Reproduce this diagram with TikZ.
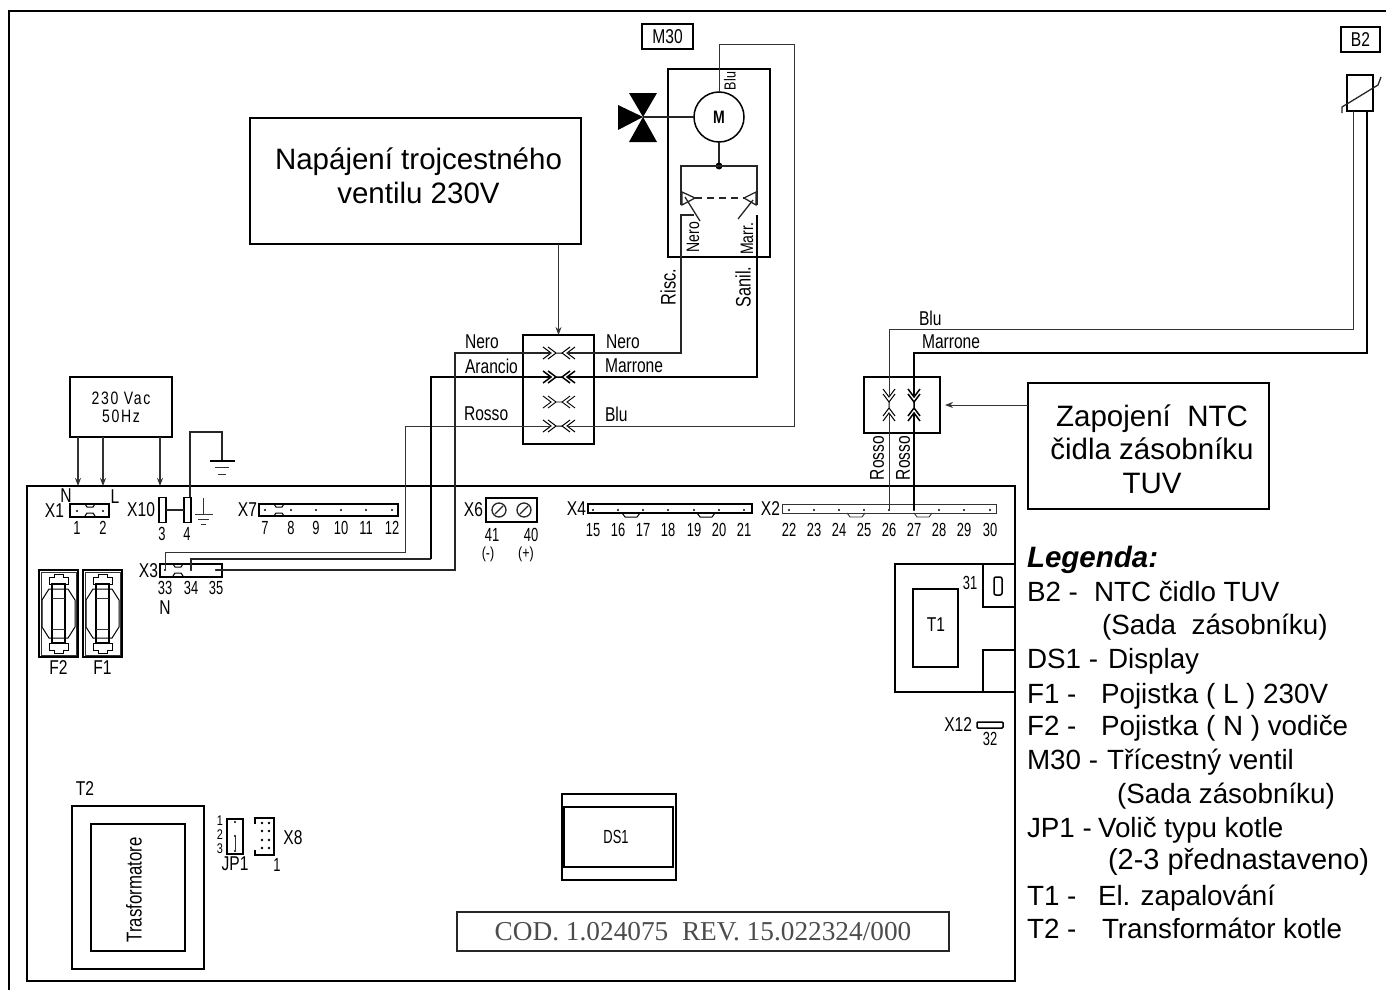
\documentclass[tikz,border=0pt]{standalone}
\usepackage{fontspec}
\setmainfont{Liberation Sans}
\newfontfamily\cadfont[FakeStretch=0.78]{Liberation Sans}
\newfontfamily\cadnumfont[FakeStretch=0.68]{Liberation Sans}
\newfontfamily\codfont{Liberation Serif}
\usetikzlibrary{positioning}
\usetikzlibrary{arrows.meta}
\tikzset{
    chevrons/.pic={
        \draw (-16,-6) -- (-8,0) -- (-16,6) (-11,-6) -- (-3,0) -- (-11,6) (-3,0) -- (3,0);
        \draw (16,-6) -- (8,0) -- (16,6) (11,-6) -- (3,0) -- (11,6);
    },
    clipmark/.pic={
        \draw (-5,0) -- (-3,3) -- (3,3) -- (5,0) (-5,12) -- (-3,9) -- (3,9) -- (5,12);
    },
    notch/.pic={
        \draw (-9,0) -- (-6,4) -- (6,4) -- (9,0);
    },
    fuseparts/.pic={
        \draw[thinwire] (2,2) rectangle (37,85);
        \draw (10,14) -- (10,7) -- (15,7) -- (15,4) -- (24,4) -- (24,7) -- (29,7) -- (29,14) -- cycle;
        \draw (10,73) -- (10,80) -- (15,80) -- (15,83) -- (24,83) -- (24,80) -- (29,80) -- (29,73) -- cycle;
        \draw (3,30) -- (10,19) -- (29,19) -- (36,30) -- (36,57) -- (29,68) -- (10,68) -- (3,57) -- cycle;
        \draw[boxline] (13,14) rectangle (26,73);
        \draw[thinwire] (13,28) -- (26,28) (13,59) -- (26,59);
    }
}
\begin{document}
\begin{tikzpicture}[
        x=1pt, y=-1pt, line width=1pt,
        every node/.style = {inner sep=0, outer sep=0},
        thinwire/.style = {line width=0.9pt, black!80},
        midwire/.style = {line width=1.3pt, black!85},
        thickwire/.style = {line width=2.3pt},
        boxline/.style = {line width=1.5pt},
        pointer/.style = {line width=1pt, black!80, -{Stealth[length=8pt, width=6pt]}},
        rect/.style = {draw, rectangle, boxline},
        calloutbox/.style = {rect, line width=2pt},
        callouttext/.style = {font=\fontsize{29.5}{33.5}\selectfont, align=center},
        cad/.style = {font=\cadfont\fontsize{20}{21}\selectfont, align=center},
        cadnum/.style = {font=\cadnumfont\fontsize{19}{20}\selectfont},
        cadsmall/.style = {font=\cadfont\fontsize{16}{17}\selectfont},
        cadtiny/.style = {font=\cadfont\fontsize{14}{14}\selectfont},
        cadrot/.style = {font=\cadfont\fontsize{18}{19}\selectfont},
        cadbig/.style = {font=\cadfont\fontsize{21}{22}\selectfont},
        legend/.style = {anchor=base west, font=\fontsize{27.8}{34}\selectfont}
        ]
    \useasboundingbox (0,0) rectangle (1386,990);
    \coordinate (framebl) at (9,990);
    \coordinate (frametr) at (1386,11);
    \draw[line width=2pt] (framebl) |- (frametr);
    \node[rect, minimum width=988pt, minimum height=495pt] (board) at (521,733.5) {};

    % power
    \node[rect, minimum width=102pt, minimum height=60pt, align=center,
        font=\cadfont\fontsize{18}{19}\selectfont\addfontfeature{LetterSpace=9}] (mains) at (121,407) {230 Vac\\[-1pt]50Hz};
    \coordinate (pinn) at (78,486);
    \coordinate (pinl) at (103,486);
    \coordinate (pinx) at (160,486);
    \draw[pointer, line width=1.4pt] (mains.south -| pinn) -- (pinn);
    \draw[pointer, line width=1.4pt] (mains.south -| pinl) -- (pinl);
    \draw[pointer, line width=1.4pt] (mains.south -| pinx) -- (pinx);
    \coordinate (pfour) at (190,498);
    \coordinate (gnd) at (222,461);
    \draw[midwire] (pfour) -- ++(0,-66) -| (gnd);
    \draw[boxline] (210,461) -- (235,461);
    \draw[thinwire] (215,467) -- (229,467) (218,474) -- (226,474);

    % X1, X10
    \node[rect, minimum width=39pt, minimum height=13pt] (xone) at (89.5,510.5) {};
    \pic at (90,504) {clipmark};
    \node[cad, left=6pt of xone] (lxone) {X1};
    \node[cad] (ln) at (66,496) {N};
    \node[cad] (ll) at (115,497) {L};
    \foreach \x/\n in {77/1,103/2} {
        \fill (\x,511) circle (1.2pt);
        \node[cadnum] (n\n) at (\x,528) {\n};
    }
    \node[rect, minimum width=7pt, minimum height=25pt] (xtena) at (162.5,510) {};
    \node[rect, minimum width=7pt, minimum height=25pt] (xtenb) at (187.5,510) {};
    \draw[midwire] (xtena) -- (xtenb);
    \node[cad, left=4pt of xtena] (lxten) {X10};
    \node[cadnum] (n3) at (162,534) {3};
    \node[cadnum] (n4) at (187,534) {4};
    \draw[thinwire] (203,498) -- (203,514) (195,514) -- (213,514) (198,519) -- (209,519) (201,524) -- (206,524);

    % X7
    \node[rect, line width=1.1pt, minimum width=139pt, minimum height=12pt] (xseven) at (328.5,510) {};
    \pic at (279,504) {clipmark};
    \node[cad, left=2pt of xseven] (lxseven) {X7};
    \foreach \x/\n in {265/7,291/8,316/9,341/10,366/11,392/12} {
        \fill (\x,510) circle (1.2pt);
        \node[cadnum] (n\n) at (\x,528) {\n};
    }

    % X3
    \node[rect, line width=1.1pt, minimum width=62pt, minimum height=13pt] (xthree) at (191,570.5) {};
    \pic at (178,564) {clipmark};
    \node[cad, left=2pt of xthree] (lxthree) {X3};
    \foreach \x/\n in {165/33,191/34,216/35} {
        \fill (\x,570) circle (1.2pt);
        \coordinate (p\n) at (\x,570);
        \node[cadnum] (n\n) at (\x,588) {\n};
    }
    \node[cad, below=6pt of n33] (ln33) {N};

    % fuses
    \node[rect, minimum width=39pt, minimum height=87pt] (ftwo) at (58.5,613.5) {};
    \pic at (39,570) {fuseparts};
    \node[rect, minimum width=39pt, minimum height=87pt] (fone) at (102.5,613.5) {};
    \pic at (83,570) {fuseparts};
    \node[cad, below=4pt of ftwo] (lftwo) {F2};
    \node[cad, below=4pt of fone] (lfone) {F1};

    % valve connector
    \node[rect, minimum width=71pt, minimum height=109pt] (mconn) at (558.5,389.5) {};
    \foreach \y/\r/\w in {353/a/1,377/b/1.5,402/c/0.9,426/d/1} {
        \pic[line width=\w pt] at (559,\y) {chevrons};
        \coordinate (in\r) at (551,\y);
        \coordinate (out\r) at (567,\y);
    }
    \node[cad, anchor=west] (lnerol) at (465,342) {Nero};
    \node[cad, anchor=west] (larancio) at (465,366) {Arancio};
    \node[cad, anchor=west] (lrosso) at (464,414) {Rosso};
    \node[cad, anchor=west] (lneror) at (606,342) {Nero};
    \node[cad, anchor=west] (lmarrone) at (605,366) {Marrone};
    \node[cad, anchor=west] (lblu) at (605,414) {Blu};
    \draw[thinwire] (p33) |- ++(240,-18) |- (ind);
    \draw[midwire] (p34) |- ++(240,-11) coordinate (bendb);
    \draw[thickwire] (bendb) |- (inb);
    \draw[midwire] (p35) -- ++(239,0) |- (ina);

    % M30
    \node[rect, line width=1.2pt, cad, minimum width=51pt, minimum height=25pt] (mthirty) at (667.5,36.5) {M30};
    \node[rect, minimum width=102pt, minimum height=188pt] (mbox) at (719,163) {};
    \node[draw, circle, boxline, minimum size=50pt, font=\cadfont\bfseries\fontsize{18}{18}\selectfont] (motor) at (719,117) {M};
    \coordinate (valve) at (643,117);
    \fill (valve) -- ++(-14,-24) -- ++(28,0) -- cycle;
    \fill (valve) -- ++(-14,25) -- ++(28,0) -- cycle;
    \fill (valve) -- ++(-25,-12) -- ++(0,25) -- cycle;
    \draw[midwire] (valve) -- (motor.west);
    \coordinate (swdot) at (719,166);
    \coordinate (swla) at (681,205);
    \coordinate (swra) at (757,205);
    \coordinate (swlb) at (694,215);
    \coordinate (swrb) at (757,215);
    \draw[midwire] (motor.south) -- (swdot);
    \fill (swdot) circle (3.5pt);
    \draw[midwire] (swla) |- (swdot) -| (swra);
    \draw[midwire] (682,192) -- (695,198) -- (682,205) -- cycle;
    \draw[midwire] (756,192) -- (744,198) -- (756,205) -- cycle;
    \draw[midwire, dashed, dash pattern=on 7pt off 5pt] (695,198) -- (744,198);
    \draw[midwire] (685,197) -- (700,221);
    \draw[midwire] (753,200) -- (738,219);
    \node[cadsmall, rotate=90] (lbluv) at (730,81) {Blu};
    \node[cadrot, rotate=90] (lnerov) at (693,237) {Nero};
    \node[cadrot, rotate=90] (lmarrv) at (747,239) {Marr.};
    \node[cadbig, rotate=90] (lrisc) at (668,287) {Risc.};
    \node[cadbig, rotate=90] (lsanil) at (743,287) {Sanil.};
    \draw[midwire] (outa) -- ++(114,0) |- (swlb);
    \draw[thickwire] (outb) -| (swrb);
    \draw[thinwire] (outd) -- ++(227,0) |- ++(-75,-382) -- (motor.north);

    % callouts
    \node[calloutbox, minimum width=331pt, minimum height=126pt] (calloutvalve) at (415.5,181) {};
    \node[callouttext] (textvalve) at (418.5,176) {Napájení trojcestného\\ventilu 230V};
    \draw[pointer] (calloutvalve.south -| mconn.north) -- (mconn.north);
    \node[calloutbox, minimum width=241pt, minimum height=126pt] (calloutntc) at (1148.5,446) {};
    \node[callouttext] (textntc) at (1152,449) {Zapojení\ \ NTC\\čidla zásobníku\\TUV};

    % X6, X4, X2
    \node[rect, line width=1.2pt, minimum width=51pt, minimum height=24pt] (xsix) at (511.5,510) {};
    \node[cad, left=3pt of xsix] (lxsix) {X6};
    \foreach \x in {499,524} {
        \draw[midwire] (\x,510) circle (7pt);
        \draw[midwire] (\x-4,514) -- (\x+4,506);
    }
    \node[cadnum] (n41) at (492,535) {41};
    \node[cadnum] (n40) at (531,535) {40};
    \node[cadsmall] (lminus) at (488,554) {(-)};
    \node[cadsmall] (lplus) at (526,554) {(+)};
    \node[rect, line width=1.1pt, minimum width=164pt, minimum height=9pt] (xfour) at (670,508.5) {};
    \pic at (631,513) {notch};
    \pic at (706,513) {notch};
    \node[cad, left=2pt of xfour] (lxfour) {X4};
    \foreach \x/\n in {593/15,618/16,643/17,668/18,694/19,719/20,744/21} {
        \fill (\x,510) circle (1.2pt);
        \node[cadnum] (n\n) at (\x,530) {\n};
    }
    \node[rect, thinwire, minimum width=214pt, minimum height=9pt] (xtwo) at (889,508.5) {};
    \pic[thinwire] at (856,513) {notch};
    \pic[thinwire] at (923,513) {notch};
    \node[cad, left=2pt of xtwo] (lxtwo) {X2};
    \foreach \x/\n in {789/22,814/23,839/24,864/25,889/26,914/27,939/28,964/29,990/30} {
        \fill (\x,510) circle (1.2pt);
        \coordinate (p\n) at (\x,510);
        \node[cadnum] (n\n) at (\x,530) {\n};
    }

    % NTC connector, sensor
    \node[rect, minimum width=76pt, minimum height=56pt] (ntcconn) at (902,405) {};
    \pic[rotate=90] at (889,405) {chevrons};
    \pic[rotate=90, line width=1.5pt] at (914,405) {chevrons};
    \coordinate (ntca) at (889,397);
    \coordinate (ntcb) at (914,397);
    \coordinate (ntcc) at (889,413);
    \coordinate (ntcd) at (914,413);
    \node[rect, line width=1.2pt, cad, minimum width=39pt, minimum height=25pt] (btwo) at (1360.5,39.5) {B2};
    \node[rect, minimum width=26pt, minimum height=36pt] (sensor) at (1360,93) {};
    \draw[midwire] (1342,113) -- (1342,107) -- (1378,85) -- (1381,77);
    \coordinate (snsa) at (1353,111);
    \coordinate (snsb) at (1367,111);
    \draw[thinwire] (ntca) -- ++(0,-68) -| (snsa);
    \draw[thickwire] (ntcb) -- ++(0,-44) -| (snsb);
    \draw[thinwire] (p26) -- (ntcc);
    \draw[thickwire] (p27) -- (ntcd);
    \node[cad, anchor=west] (lblut) at (919,318) {Blu};
    \node[cad, anchor=west] (lmarrt) at (922,342) {Marrone};
    \node[cad, rotate=90] (lrossoa) at (877,458) {Rosso};
    \node[cad, rotate=90] (lrossob) at (903,458) {Rosso};
    \draw[pointer] (calloutntc.west |- ntcconn.east) -- ([xshift=5pt]ntcconn.east);

    % T1, X12
    \coordinate (tonetl) at (895,564);
    \coordinate (tonebr) at (1015,692);
    \draw[boxline] (tonetl) rectangle (tonebr);
    \node[rect, minimum width=45pt, minimum height=78pt] (tone) at (935.5,628) {};
    \node[cad] (ltone) at (936,625) {T1};
    \node[cadnum] (n31) at (970,583) {31};
    \draw[boxline] (983,564) -- (983,607) -- (1015,607) (983,692) -- (983,650) -- (1015,650);
    \node[rect, rounded corners=2pt, minimum width=8pt, minimum height=18pt] (zero) at (998,586) {};
    \node[rect, rounded corners=1pt, minimum width=26pt, minimum height=6pt] (xtwelve) at (990,725) {};
    \node[cad, left=5pt of xtwelve] (lxtwelve) {X12};
    \node[cadnum, below=4pt of xtwelve] (n32) {32};

    % T2, JP1, X8
    \node[rect, line width=1.1pt, minimum width=132pt, minimum height=163pt] (ttwoa) at (138,887.5) {};
    \node[rect, line width=2pt, minimum width=94pt, minimum height=127pt] (ttwob) at (138,887.5) {};
    \node[cad, font=\cadfont\fontsize{21.5}{22}\selectfont, rotate=90] (ltrafo) at (134,890) {Trasformatore};
    \node[cad] (lttwo) at (85,789) {T2};
    \node[rect, line width=1.1pt, minimum width=16pt, minimum height=35pt] (jpone) at (235,836.5) {};
    \fill (235,822) circle (1.2pt) (235,836) circle (1.2pt) (235,851) circle (1.2pt);
    \draw[thinwire] (235,836) -- (235,851);
    \node[cad, below=3pt of jpone] (ljpone) {JP1};
    \foreach \y/\n in {821/1,835/2,849/3} {
        \node[cadtiny] (jp\n) at (220,\y) {\n};
    }
    \coordinate (xeighta) at (255,818);
    \coordinate (xeightb) at (274,855);
    \draw[boxline] (255,824) -- (xeighta) -| (xeightb) -- (255,855) -- (255,850);
    \foreach \y in {823,831,840,848} {
        \fill (262,\y) circle (1.3pt) (269,\y) circle (1.3pt);
    }
    \node[cad] (lxeight) at (293,838) {X8};
    \node[cadnum] (nxeight) at (277,865) {1};

    % DS1, code
    \node[rect, line width=1.1pt, minimum width=114pt, minimum height=86pt] (dsa) at (619,837) {};
    \node[rect, minimum width=109pt, minimum height=60pt] (dsb) at (618.5,837) {};
    \node[cadnum] (ldsone) at (616,837) {DS1};
    \node[rect, line width=1.2pt, black!85, minimum width=492pt, minimum height=39pt, font=\codfont\fontsize{27.3}{27.3}\selectfont, text=black!70] (code) at (703,931.5) {COD. 1.024075\ \ REV. 15.022324/000};

    % legend
    \node[legend, font=\bfseries\itshape\fontsize{29.5}{34}\selectfont] (legendtitle) at (1027,567) {Legenda:};
    \foreach \y/\k/\xv/\v [count=\i] in {
        601/B2 -/1094/NTC čidlo TUV,
        668/DS1 -/1108/Display,
        703/F1 -/1101/Pojistka ( L ) 230V,
        735.5/F2 -/1101/Pojistka ( N ) vodiče,
        769/M30 -/1107/Třícestný ventil,
        837/JP1 -/1098/Volič typu kotle,
        905/T1 -/1098/El. zapalování,
        938/T2 -/1102/Transformátor kotle} {
        \node[legend] (legkey\i) at (1027,\y) {\k};
        \node[legend] (legval\i) at (\xv,\y) {\v};
    }
    \node[legend] (legsadaa) at (1102,634.7) {(Sada\ \ zásobníku)};
    \node[legend] (legsadab) at (1117,803) {(Sada zásobníku)};
    \node[legend, font=\fontsize{29}{34}\selectfont] (legpred) at (1108,869) {(2-3 přednastaveno)};
\end{tikzpicture}
\end{document}
